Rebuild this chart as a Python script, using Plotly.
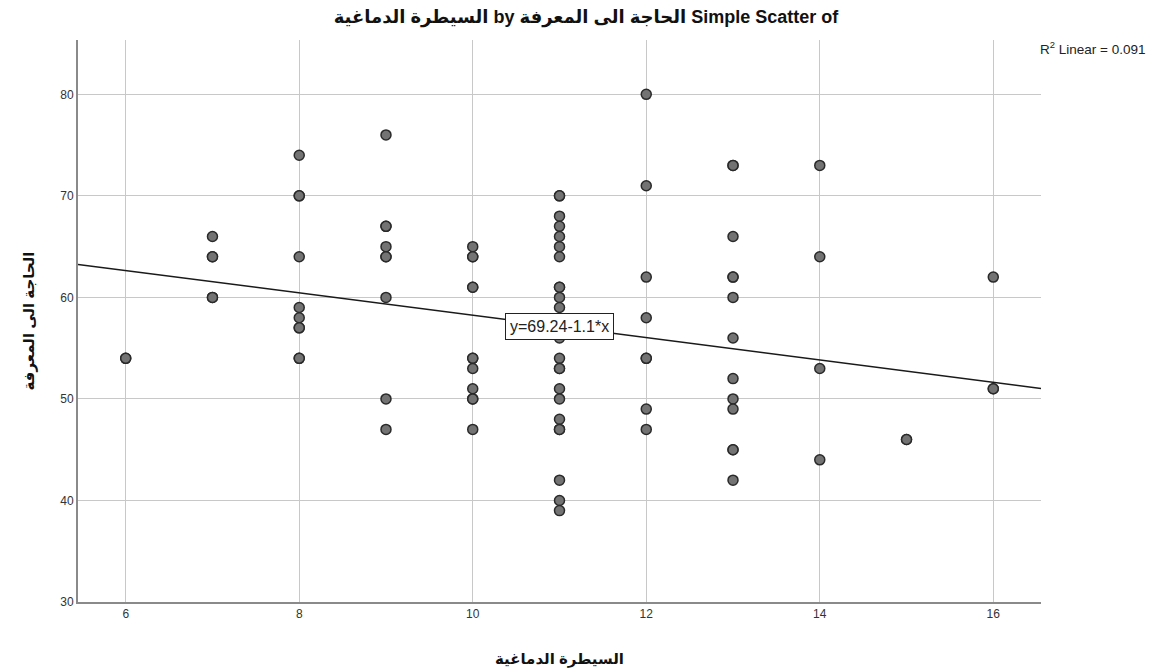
import plotly.graph_objects as go

# Data (x = السيطرة الدماغية, y = الحاجة الى المعرفة)
x6 = [6, 6]
y6 = [54, 54]
x7 = [7, 7, 7, 7, 7]
y7 = [66, 64, 64, 60, 60]
x8 = [8, 8, 8, 8, 8, 8, 8, 8, 8, 8]
y8 = [74, 70, 70, 64, 59, 58, 57, 57, 54, 54]
x9 = [9, 9, 9, 9, 9, 9, 9, 9, 9]
y9 = [76, 67, 67, 65, 64, 64, 60, 50, 47]
x10 = [10, 10, 10, 10, 10, 10, 10, 10, 10, 10, 10, 10]
y10 = [65, 64, 64, 61, 61, 54, 54, 53, 51, 50, 50, 47]
x11 = [11, 11, 11, 11, 11, 11, 11, 11, 11, 11, 11, 11,
       11, 11, 11, 11, 11, 11, 11, 11, 11, 11, 11, 11]
y11 = [70, 70, 68, 67, 66, 65, 64, 61, 61, 60, 59, 57,
       56, 54, 53, 53, 51, 50, 48, 47, 47, 42, 40, 39]
x12 = [12, 12, 12, 12, 12, 12, 12, 12]
y12 = [80, 71, 62, 58, 54, 54, 49, 47]
x13 = [13, 13, 13, 13, 13, 13, 13, 13, 13, 13, 13, 13, 13]
y13 = [73, 73, 66, 62, 62, 60, 56, 52, 50, 49, 45, 45, 42]
x14 = [14, 14, 14, 14]
y14 = [73, 64, 53, 44]
x15 = [15, 15]
y15 = [46, 46]
x16 = [16, 16, 16]
y16 = [62, 51, 51]

x_vals = x6 + x7 + x8 + x9 + x10 + x11 + x12 + x13 + x14 + x15 + x16
y_vals = y6 + y7 + y8 + y9 + y10 + y11 + y12 + y13 + y14 + y15 + y16

# Reported fit
intercept = 69.24
slope = -1.1
r2_text = "R<sup>2</sup> Linear = 0.091"
eq_text = "y=69.24-1.1*x"

x_range = [5.45, 16.55]
y_range = [30, 85.35]
x_ticks = [6, 8, 10, 12, 14, 16]
y_ticks = [30, 40, 50, 60, 70, 80]

title_text = "<b>السيطرة الدماغية by الحاجة الى المعرفة Simple Scatter of</b>"
x_title = "السيطرة الدماغية"
y_title = "الحاجة الى المعرفة"

fit_x = x_range
fit_y = [intercept + slope * v for v in fit_x]

FONT = "Liberation Sans, DejaVu Sans, Arial, sans-serif"

fig = go.Figure()
fig.add_trace(go.Scatter(
    x=fit_x, y=fit_y, mode="lines",
    line=dict(color="#1a1a1a", width=1.5),
    hoverinfo="skip", showlegend=False,
))
fig.add_trace(go.Scatter(
    x=x_vals, y=y_vals, mode="markers",
    marker=dict(size=10, color="#737373", line=dict(color="#2a2a2a", width=1.5)),
    showlegend=False,
))

eq_x = 11
fig.add_annotation(
    x=eq_x, y=intercept + slope * eq_x, xref="x", yref="y",
    text=eq_text, showarrow=False,
    font=dict(family=FONT, size=16, color="#222"),
    bgcolor="white", bordercolor="#222", borderwidth=1, borderpad=4,
)
fig.add_annotation(
    x=1.0, y=1.0, xref="paper", yref="paper", xanchor="left", yanchor="top",
    xshift=-3, yshift=3,
    text=r2_text, showarrow=False,
    font=dict(family=FONT, size=13.5, color="#222"),
)

fig.update_layout(
    width=1153, height=661,
    margin=dict(l=70, r=120, t=32, b=67, autoexpand=False),
    paper_bgcolor="white", plot_bgcolor="white",
    title=dict(
        text=title_text, x=0.5013, xanchor="center", y=0.9864, yanchor="middle",
        font=dict(family=FONT, size=18, color="#111"),
    ),
    font=dict(family=FONT, color="#333"),
)
fig.update_xaxes(
    range=x_range, tickvals=x_ticks, ticktext=[str(t) for t in x_ticks],
    showgrid=True, gridcolor="#c8c8c8", gridwidth=1,
    showline=True, linecolor="#8a8a8a", linewidth=2,
    zeroline=False, ticks="", tickfont=dict(size=12, color="#333"),
    automargin=False,
    title=dict(text="<b>" + x_title + "</b>", font=dict(size=15, color="#111"), standoff=33),
)
fig.update_yaxes(
    range=y_range, tickvals=y_ticks, ticktext=[str(t) for t in y_ticks],
    showgrid=True, gridcolor="#c8c8c8", gridwidth=1,
    showline=True, linecolor="#8a8a8a", linewidth=2,
    zeroline=False, ticks="", tickfont=dict(size=12, color="#333"),
    automargin=False,
    title=dict(text="<b>" + y_title + "</b>", font=dict(size=15, color="#111"), standoff=22),
)

fig.write_html("out.html")
